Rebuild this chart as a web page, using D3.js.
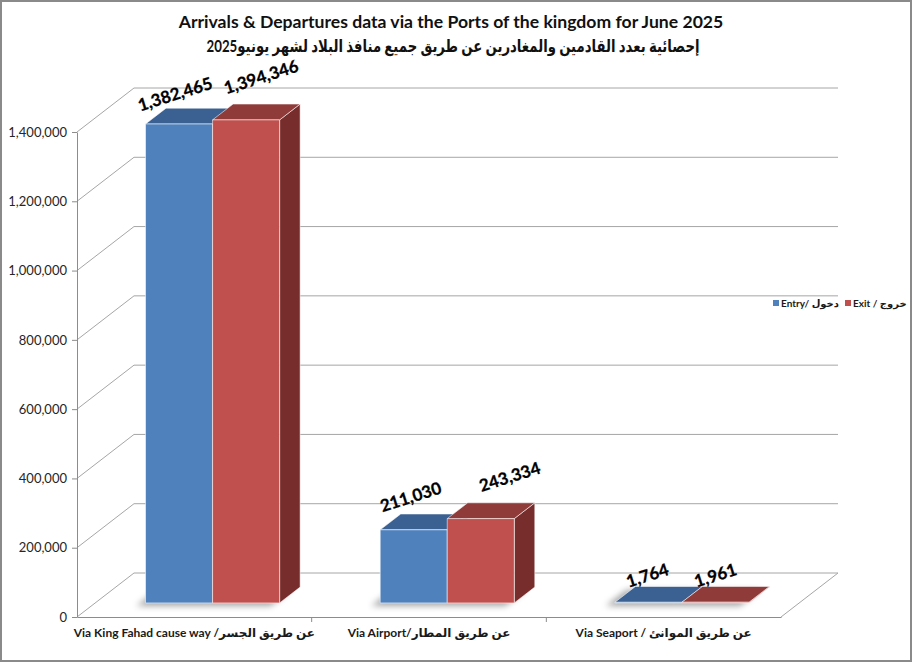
<!DOCTYPE html>
<html lang="en">
<head>
<meta charset="utf-8">
<title>Arrivals &amp; Departures via the Ports of the kingdom - June 2025</title>
<script src="https://cdn.jsdelivr.net/npm/d3@7"></script>
<style>
  body { margin: 0; background: #fff; }
  text { font-family: Lato, "DejaVu Sans", sans-serif; }
</style>
</head>
<body>
<script>
// data
var categories = ["Via King Fahad cause way /عن طريق الجسر", "Via Airport/عن طريق المطار", "Via Seaport / عن طريق الموانئ"];
var seriesNames = ["Entry/ دخول", "Exit / خروج"];
var entryValues = [1382465, 211030, 1764];
var exitValues = [1394346, 243334, 1961];
var yTicks = [0, 200000, 400000, 600000, 800000, 1000000, 1200000, 1400000];
var titleEn = "Arrivals & Departures data via the Ports of the kingdom for June 2025";
var titleAr = "إحصائية بعدد القادمين والمغادرين عن طريق جميع منافذ البلاد لشهر يونيو2025";

var w = 912, h = 662;
var depthX = 57, depthY = 44;       // how far the floor goes back
var barNear = 0.32, barFar = 0.68;  // where the bars sit in that depth
var colors = [
  { front: "#4F81BD", top: "#3B6192", side: "#2F4D74" },
  { front: "#C0504D", top: "#8F3B39", side: "#772D2B" }
];
// hand placed label offsets in the original, [series][category]
var labelNudge = [
  [[-4, 0], [-3, -3], [-1, 3]],
  [[15, -13], [29, -12], [0, 3]]
];

function P(px, py, d) { return [px + d * depthX, py - d * depthY]; }
function poly(pts) { return pts.map(function(p) { return p.join(","); }).join(" "); }

var svg = d3.select("body").append("svg")
  .attr("width", w)
  .attr("height", h);

var defs = svg.append("defs");
defs.append("filter").attr("id", "blur")
  .attr("x", "-50%").attr("y", "-50%").attr("width", "200%").attr("height", "200%")
  .append("feGaussianBlur").attr("stdDeviation", 3);

// chart frame
svg.append("rect")
  .attr("x", 1).attr("y", 1)
  .attr("width", w - 2).attr("height", h - 2)
  .attr("fill", "#fff")
  .attr("stroke", "#8a8a8a")
  .attr("stroke-width", 2);

var x = d3.scaleBand().domain(categories).range([77, 781]);
var xs = d3.scaleBand().domain(seriesNames).range([0, x.bandwidth()]).paddingOuter(0.75);
var y = d3.scaleLinear().domain([0, 1400000]).range([617, 132]);

// walls: back gridlines + left side diagonals
var grid = svg.append("g").attr("stroke", "#a6a6a6").attr("stroke-width", 1).attr("fill", "none");
yTicks.forEach(function(t) {
  var a = P(x.range()[0], y(t), 1), b = P(x.range()[1], y(t), 1);
  grid.append("line").attr("x1", a[0]).attr("y1", a[1]).attr("x2", b[0]).attr("y2", b[1]);
  grid.append("line").attr("x1", x.range()[0]).attr("y1", y(t)).attr("x2", a[0]).attr("y2", a[1]);
});
// floor right edge
var fr = P(x.range()[1], y(0), 1);
grid.append("line").attr("x1", x.range()[1]).attr("y1", y(0)).attr("x2", fr[0]).attr("y2", fr[1]);

// y axis
var yAxis = svg.append("g")
  .attr("transform", "translate(" + x.range()[0] + ",0)")
  .call(d3.axisLeft(y).tickValues(yTicks).tickFormat(d3.format(",")).tickSize(5).tickSizeOuter(0).tickPadding(5));
yAxis.select(".domain").attr("stroke", "#8c8c8c");
yAxis.selectAll(".tick line").attr("stroke", "#8c8c8c");
yAxis.selectAll("text").attr("font-size", 13).attr("fill", "#262626");

// x axis
var xAxis = svg.append("g")
  .attr("transform", "translate(0," + y(0) + ")")
  .call(d3.axisBottom(x).tickSize(0).tickSizeOuter(0).tickPadding(11));
xAxis.select(".domain").attr("stroke", "#8c8c8c");
xAxis.selectAll("text").attr("font-size", 12).attr("font-weight", "bold").attr("fill", "#1a1a1a");
xAxis.selectAll(".sep")
  .data(categories.slice(1))
  .enter().append("line")
  .attr("class", "sep")
  .attr("x1", function(d) { return x(d); })
  .attr("x2", function(d) { return x(d); })
  .attr("y1", 0).attr("y2", 5)
  .attr("stroke", "#8c8c8c");

// bar records
var bars = [];
categories.forEach(function(c, i) {
  [entryValues, exitValues].forEach(function(vals, j) {
    bars.push({ cat: c, ci: i, si: j, ser: seriesNames[j], value: vals[i] });
  });
});

function geom(d) {
  var x0 = x(d.cat) + xs(d.ser), x1 = x0 + xs.bandwidth();
  var yt = y(d.value), yb = y(0);
  return {
    front: [P(x0, yt, barNear), P(x1, yt, barNear), P(x1, yb, barNear), P(x0, yb, barNear)],
    top: [P(x0, yt, barNear), P(x1, yt, barNear), P(x1, yt, barFar), P(x0, yt, barFar)],
    side: [P(x1, yt, barNear), P(x1, yt, barFar), P(x1, yb, barFar), P(x1, yb, barNear)],
    foot: [P(x0, yb, barNear), P(x1, yb, barNear), P(x1, yb, barFar), P(x0, yb, barFar)]
  };
}

// soft shadows on the floor
svg.append("g").attr("filter", "url(#blur)")
  .selectAll("polygon")
  .data(bars)
  .enter().append("polygon")
  .attr("points", function(d) {
    return poly(geom(d).foot.map(function(p) { return [p[0] - 9, p[1] + 3]; }));
  })
  .attr("fill", "#000")
  .attr("opacity", 0.35);

var barG = svg.append("g").selectAll("g")
  .data(bars)
  .enter().append("g")
  .attr("stroke", "rgba(255,255,255,0.55)")
  .attr("stroke-width", 1)
  .attr("stroke-linejoin", "round");

["side", "top", "front"].forEach(function(face) {
  barG.append("polygon")
    .attr("points", function(d) { return poly(geom(d)[face]); })
    .attr("fill", function(d) { return colors[d.si][face]; });
});

// value labels
svg.append("g").selectAll("text")
  .data(bars)
  .enter().append("text")
  .attr("transform", function(d) {
    var g = geom(d), n = labelNudge[d.si][d.ci];
    var cx = (g.front[0][0] + g.front[1][0]) / 2 + n[0];
    var cy = g.top[2][1] - 14 + n[1];
    return "translate(" + cx + "," + cy + ") rotate(-17.5)";
  })
  .attr("text-anchor", "middle")
  .attr("dy", "0.35em")
  .attr("font-size", 17)
  .attr("font-weight", "bold")
  .attr("fill", "#000")
  .attr("stroke", "#000")
  .attr("stroke-width", 0.3)
  .text(function(d) { return d3.format(",")(d.value); });

// titles
svg.append("text")
  .attr("x", 451).attr("y", 28)
  .attr("text-anchor", "middle")
  .attr("font-size", 17.6).attr("font-weight", "bold")
  .attr("fill", "#111")
  .text(titleEn);
svg.append("text")
  .attr("x", 453).attr("y", 52)
  .attr("text-anchor", "middle")
  .attr("font-size", 17).attr("font-weight", "bold")
  .attr("textLength", 493)
  .attr("lengthAdjust", "spacingAndGlyphs")
  .attr("fill", "#111")
  .text(titleAr);

// legend
var leg = svg.append("g").selectAll("g")
  .data(seriesNames)
  .enter().append("g")
  .attr("transform", function(d, i) { return "translate(" + (773 + i * 72) + ",303)"; });
leg.append("rect")
  .attr("x", 0).attr("y", -3).attr("width", 6).attr("height", 6)
  .attr("fill", function(d, i) { return colors[i].front; });
leg.append("text")
  .attr("x", 8).attr("dy", "0.35em")
  .attr("font-size", 10).attr("font-weight", "bold")
  .attr("fill", "#1a1a1a")
  .text(function(d) { return d; });
</script>
</body>
</html>
